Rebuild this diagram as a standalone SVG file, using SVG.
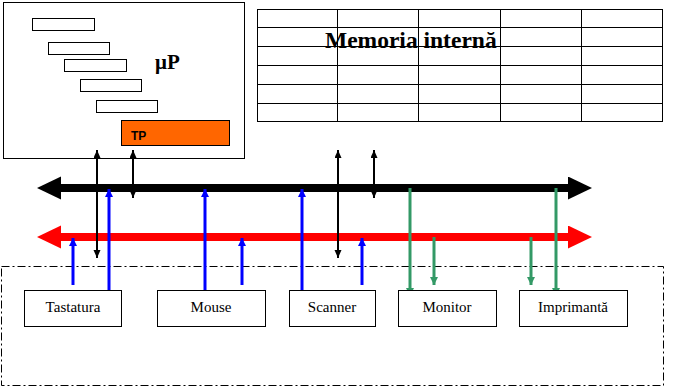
<svg xmlns="http://www.w3.org/2000/svg" width="680" height="388" viewBox="0 0 680 388">
<style>
.box{fill:#fff;stroke:#000;stroke-width:1}
.sm{fill:#fff;stroke:#000;stroke-width:1}
.grid{stroke:#000;stroke-width:1;fill:none}
.dev{font-family:'Liberation Serif','Times New Roman',serif;font-size:15px;fill:#000;text-anchor:middle}
.blk{stroke:#000;stroke-width:2;fill:none;marker-start:url(#hb);marker-end:url(#hb)}
.blu{stroke:#0000ff;stroke-width:3;fill:none;marker-end:url(#hbl)}
.grn{stroke:#339966;stroke-width:3;fill:none;marker-end:url(#hg)}
</style>
<defs>
<marker id="bus" markerUnits="userSpaceOnUse" markerWidth="24" markerHeight="24" refX="0" refY="11.5" orient="auto-start-reverse"><path d="M0,0 L24,11.5 L0,23 z" fill="#000"/></marker>
<marker id="busr" markerUnits="userSpaceOnUse" markerWidth="25" markerHeight="24" refX="0" refY="11.5" orient="auto-start-reverse"><path d="M0,0 L24,11.5 L0,23 z" fill="#ff0000"/></marker>
<marker id="hb" markerUnits="userSpaceOnUse" markerWidth="8" markerHeight="8" refX="8" refY="3.5" orient="auto-start-reverse"><path d="M0,0 L8,3.5 L0,7 z" fill="#000"/></marker>
<marker id="hbl" markerUnits="userSpaceOnUse" markerWidth="9" markerHeight="9" refX="8" refY="4" orient="auto"><path d="M0,0 L8,4 L0,8 z" fill="#0000ff"/></marker>
<marker id="hg" markerUnits="userSpaceOnUse" markerWidth="9" markerHeight="9" refX="8" refY="4" orient="auto"><path d="M0,0 L8,4 L0,8 z" fill="#339966"/></marker>
</defs>
<rect width="680" height="388" fill="#fff"/>
<rect x="1.5" y="266.5" width="662" height="119" fill="none" stroke="#000" stroke-width="1" stroke-dasharray="8 3 2 3"/>
<g id="uP">
<rect class="box" x="3.5" y="2.5" width="241" height="156"/>
<rect class="sm" x="32.5" y="18.5" width="62" height="12"/>
<rect class="sm" x="48.5" y="42.5" width="61" height="12"/>
<rect class="sm" x="64.5" y="59.5" width="62" height="12"/>
<rect class="sm" x="80.5" y="79.5" width="61" height="12"/>
<rect class="sm" x="96.5" y="100.5" width="61" height="12"/>
<text x="155" y="69" font-family="'Liberation Serif', serif" font-weight="bold" font-size="21">μP</text>
</g>
<g id="TP">
<rect x="121.5" y="120.5" width="108" height="25" fill="#ff6600" stroke="#000" stroke-width="1"/>
<text x="131" y="140" font-family="'Liberation Sans', sans-serif" font-weight="bold" font-size="12">TP</text>
</g>
<g id="memorie">
<rect class="grid" x="257.5" y="9.5" width="405" height="112"/>
<path class="grid" d="M337.5,9.5V121.5 M418.5,9.5V121.5 M500.5,9.5V121.5 M581.5,9.5V121.5 M257.5,27.5H662.5 M257.5,46.5H662.5 M257.5,65.5H662.5 M257.5,84.5H662.5 M257.5,103.5H662.5"/>
<text x="325" y="48" font-family="'Liberation Serif', serif" font-weight="bold" font-size="23.5">Memoria internă</text>
</g>
<g id="connectors">
<line x1="61" y1="188" x2="568" y2="188" stroke="#000" stroke-width="8" marker-start="url(#bus)" marker-end="url(#bus)"/>
<line x1="61" y1="237" x2="568" y2="237" stroke="#ff0000" stroke-width="8" marker-start="url(#busr)" marker-end="url(#busr)"/>
<line class="blk" x1="97" y1="150" x2="97" y2="258"/>
<line class="blk" x1="133" y1="150" x2="133" y2="198"/>
<line class="blk" x1="338" y1="150" x2="338" y2="258"/>
<line class="blk" x1="374" y1="150" x2="374" y2="198"/>
<line class="blu" x1="109" y1="295" x2="109" y2="189"/>
<line class="blu" x1="205" y1="295" x2="205" y2="189"/>
<line class="blu" x1="302" y1="295" x2="302" y2="189"/>
<line class="blu" x1="73" y1="285" x2="73" y2="238"/>
<line class="blu" x1="242" y1="285" x2="242" y2="238"/>
<line class="blu" x1="362" y1="285" x2="362" y2="238"/>
<line class="grn" x1="410" y1="188" x2="410" y2="296"/>
<line class="grn" x1="556" y1="188" x2="556" y2="296"/>
<line class="grn" x1="434" y1="237" x2="434" y2="285"/>
<line class="grn" x1="531" y1="237" x2="531" y2="285"/>
</g>
<g id="tastatura"><rect class="box" x="24.5" y="290.5" width="97" height="36"/><text class="dev" x="73" y="312" font-family="'Liberation Serif', serif">Tastatura</text></g>
<g id="mouse"><rect class="box" x="157.5" y="290.5" width="108" height="36"/><text class="dev" x="211" y="312" font-family="'Liberation Serif', serif">Mouse</text></g>
<g id="scanner"><rect class="box" x="289.5" y="290.5" width="86" height="36"/><text class="dev" x="332" y="312" font-family="'Liberation Serif', serif">Scanner</text></g>
<g id="monitor"><rect class="box" x="398.5" y="290.5" width="98" height="36"/><text class="dev" x="447" y="312" font-family="'Liberation Serif', serif">Monitor</text></g>
<g id="imprimanta"><rect class="box" x="519.5" y="290.5" width="108" height="36"/><text class="dev" x="573" y="312" font-family="'Liberation Serif', serif">Imprimantă</text></g>
</svg>
